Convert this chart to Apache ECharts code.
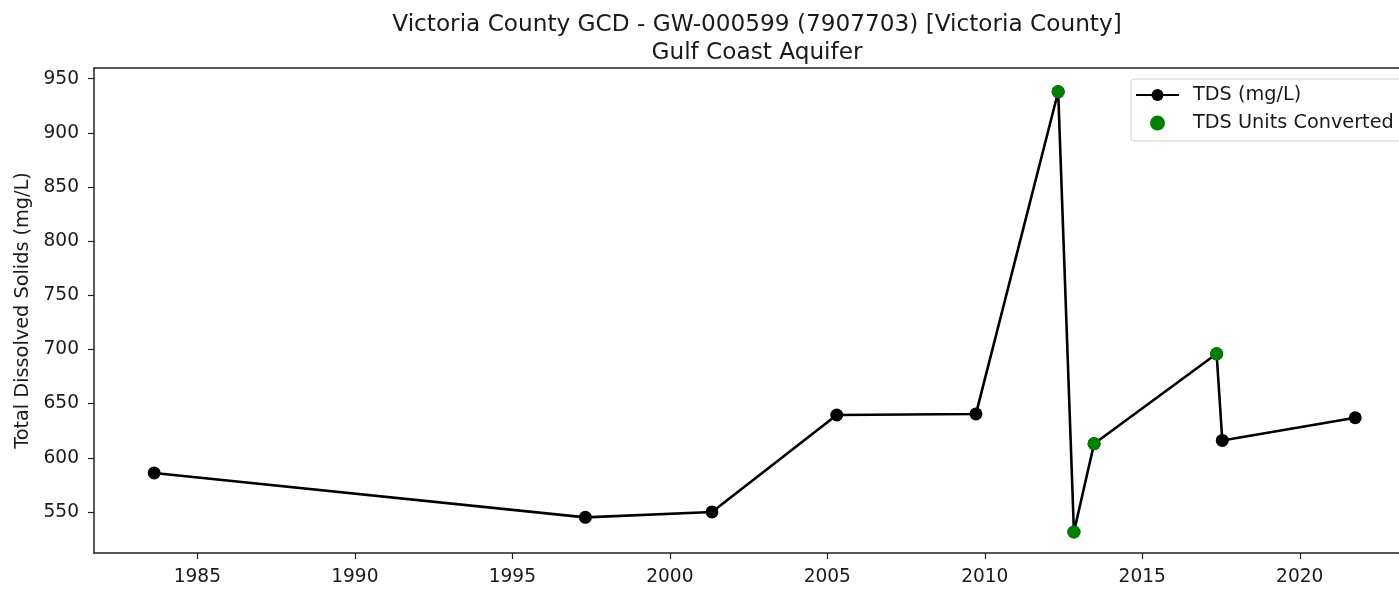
<!DOCTYPE html>
<html>
<head>
<meta charset="utf-8">
<title>Victoria County GCD - GW-000599 (7907703)</title>
<script src="https://cdn.jsdelivr.net/npm/echarts@6/dist/echarts.min.js"></script>
<style>
  html, body { margin: 0; padding: 0; background: #ffffff; }
  #chart { width: 1399px; height: 591px; }
</style>
</head>
<body>
<div id="chart"></div>
<script>
// Sample dates (decimal years) and total dissolved solids (mg/L)
const sampleYears = [1983.63, 1997.32, 2001.34, 2005.30, 2009.72, 2012.33, 2012.83, 2013.47, 2017.36, 2017.54, 2021.76];
const tdsValues   = [586, 545, 550, 639.5, 640.5, 938, 531.5, 613, 696, 616, 637];
// Samples whose TDS value was converted from other units
const convertedFlags = [false, false, false, false, false, true, true, true, true, false, false];

const xTickLabels = [1985, 1990, 1995, 2000, 2005, 2010, 2015, 2020];
const yTickLabels = [550, 600, 650, 700, 750, 800, 850, 900, 950];

const titleLines = ['Victoria County GCD - GW-000599 (7907703) [Victoria County]', 'Gulf Coast Aquifer'];
const yAxisTitle = 'Total Dissolved Solids (mg/L)';
const seriesNames = ['TDS (mg/L)', 'TDS Units Converted'];

const allPoints = sampleYears.map((yr, i) => [yr, tdsValues[i]]);
const convertedPoints = sampleYears
  .map((yr, i) => [yr, tdsValues[i]])
  .filter((_, i) => convertedFlags[i]);

const FONT = 'DejaVu Sans';
const TEXT = '#1a1a1a';
const AXIS = '#222';
const X_MIN = 1981.72, X_MAX = 2023.15;
const Y_MIN = 512.1, Y_MAX = 959.9;

const chart = echarts.init(document.getElementById('chart'), null, { renderer: 'canvas' });

chart.setOption({
  backgroundColor: '#ffffff',
  animation: false,
  textStyle: { fontFamily: FONT },
  title: {
    text: titleLines.join('\n'),
    left: 752,
    top: 6,
    textAlign: 'center',
    textStyle: { fontFamily: FONT, fontSize: 23.2, fontWeight: 'normal', color: TEXT, lineHeight: 28 }
  },
  legend: {
    orient: 'vertical',
    left: 1131,
    top: 79,
    padding: [5, 12, 7, 4],
    itemWidth: 43,
    itemHeight: 15,
    itemGap: 6,
    borderColor: '#d0d0d0',
    borderWidth: 1,
    borderRadius: 3,
    backgroundColor: 'rgba(255,255,255,0.8)',
    textStyle: { fontFamily: FONT, fontSize: 19.3, color: TEXT, lineHeight: 22, padding: [0, 0, 0, 9] },
    data: seriesNames
  },
  grid: {
    left: 94,
    top: 68,
    right: 0,
    height: 485,
    show: false,
    containLabel: false
  },
  xAxis: [
    {
      type: 'value',
      min: X_MIN,
      max: X_MAX,
      splitLine: { show: false },
      axisLine: { show: true, onZero: false, lineStyle: { color: AXIS, width: 1.5 } },
      axisTick: { show: true, length: 6, lineStyle: { color: AXIS, width: 1.2 }, customValues: xTickLabels },
      axisLabel: {
        margin: 15, fontFamily: FONT, fontSize: 18.6, color: TEXT,
        customValues: xTickLabels,
        formatter: v => String(Math.round(v))
      }
    },
    {
      // top frame edge
      type: 'value',
      position: 'top',
      min: X_MIN,
      max: X_MAX,
      splitLine: { show: false },
      axisLine: { show: true, onZero: false, lineStyle: { color: AXIS, width: 1.6 } },
      axisTick: { show: false },
      axisLabel: { show: false }
    }
  ],
  yAxis: {
    type: 'value',
    min: Y_MIN,
    max: Y_MAX,
    name: yAxisTitle,
    nameLocation: 'middle',
    nameGap: 60,
    nameTextStyle: { fontFamily: FONT, fontSize: 19.3, color: TEXT },
    splitLine: { show: false },
    axisLine: { show: true, onZero: false, lineStyle: { color: AXIS, width: 1.5 } },
    axisTick: { show: true, length: 6, lineStyle: { color: AXIS, width: 1.2 }, customValues: yTickLabels },
    axisLabel: {
      margin: 15, fontFamily: FONT, fontSize: 18.6, color: TEXT,
      customValues: yTickLabels,
      formatter: v => String(Math.round(v))
    }
  },
  series: [
    {
      name: seriesNames[0],
      type: 'line',
      data: allPoints,
      symbol: 'circle',
      symbolSize: 13,
      showAllSymbol: true,
      lineStyle: { color: '#000', width: 2.6 },
      itemStyle: { color: '#000' },
      z: 2
    },
    {
      name: seriesNames[1],
      type: 'scatter',
      data: convertedPoints,
      symbol: 'circle',
      symbolSize: 13,
      itemStyle: { color: '#008000', opacity: 1 },
      z: 3
    }
  ]
});
</script>
</body>
</html>
